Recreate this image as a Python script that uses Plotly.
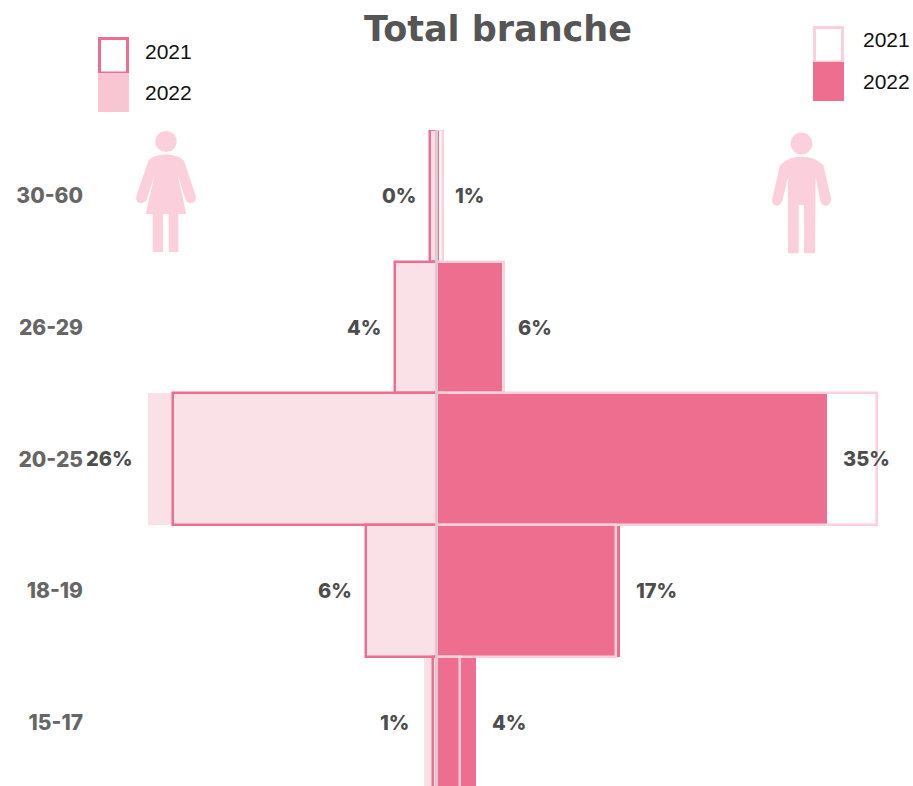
import plotly.graph_objects as go

ages = ["15-17", "18-19", "20-25", "26-29", "30-60"]
women_2021 = [0.35, 6.4, 23.7, 3.8, 0.6]
women_2022 = [1.15, 6.3, 25.9, 3.7, 0.5]
men_2021 = [2.1, 16.1, 39.5, 6.0, 0.5]
men_2022 = [3.5, 16.4, 35.0, 5.8, 0.2]
women_labels = ["1%", "6%", "26%", "4%", "0%"]
men_labels = ["4%", "17%", "35%", "6%", "1%"]
legend_years = ["2021", "2022"]
title_text = "Total branche"

DARK = "#ee6e90"
LIGHT = "#fbd0dc"
PALE = "#fae0e7"
W, H = 913, 786
L, T = 84, 130
PW, PH = W - L, H - T


def px(x):
    return (x - L) / PW


def py(y):
    return (H - y) / PH


def rect(x0, y0, x1, y1, **kw):
    return dict(type="rect", xref="paper", yref="paper", x0=px(x0), x1=px(x1),
                y0=py(y1), y1=py(y0), **kw)


def icon_path(cmds, ox, oy):
    out = []
    for c in cmds:
        if c == "Z":
            out.append("Z")
            continue
        parts = [c[0]]
        pts = c[1:]
        for i in range(0, len(pts), 2):
            parts.append(f"{px(ox + pts[i] / 3):.5f},{py(oy + pts[i + 1] / 3):.5f}")
        out.append(parts[0] + " ".join(parts[1:]))
    return " ".join(out)


woman = [("M", 85, 122), ("Q", 100, 105, 138, 103), ("Q", 176, 105, 192, 122), ("L", 227, 228),
         ("Q", 230, 248, 212, 250), ("Q", 200, 250, 195, 235), ("L", 172, 160), ("L", 199, 282),
         ("L", 175, 282), ("L", 175, 396), ("L", 146, 396), ("L", 146, 282), ("L", 129, 282),
         ("L", 129, 396), ("L", 98, 396), ("L", 98, 282), ("L", 77, 282), ("L", 105, 160),
         ("L", 80, 240), ("Q", 72, 250, 60, 250), ("Q", 44, 245, 50, 225), "Z"]
man = [("M", 60, 135), ("Q", 85, 110, 125, 110), ("Q", 165, 110, 190, 135), ("L", 213, 235),
       ("Q", 215, 255, 197, 257), ("Q", 185, 257, 180, 240), ("L", 167, 170), ("L", 165, 400),
       ("L", 132, 400), ("L", 132, 255), ("L", 116, 255), ("L", 116, 400), ("L", 84, 400),
       ("L", 84, 170), ("L", 68, 240), ("Q", 62, 257, 50, 257), ("Q", 33, 253, 37, 235), "Z"]

fig = go.Figure()
neg = lambda v: [-a for a in v]
fig.add_bar(y=ages, x=neg(women_2022), orientation="h", name="Women 2022",
            marker=dict(color=PALE, line=dict(width=0)))
fig.add_bar(y=ages, x=neg(women_2021), orientation="h", name="Women 2021",
            marker=dict(color="rgba(0,0,0,0)", line=dict(color=DARK, width=2.5)))
fig.add_bar(y=ages, x=men_2022, orientation="h", name="Men 2022",
            marker=dict(color=DARK, line=dict(width=0)))
fig.add_bar(y=ages, x=men_2021, orientation="h", name="Men 2021",
            marker=dict(color="rgba(0,0,0,0)", line=dict(color=LIGHT, width=2.5)))

annotations = []
label_font = dict(family="Inter", size=20, color="#4d4d4d", weight=800)
for i, age in enumerate(ages):
    annotations.append(dict(x=-women_2022[i], y=age, text=women_labels[i], xref="x", yref="y",
                            xanchor="right", xshift=-13, showarrow=False, font=label_font))
    annotations.append(dict(x=men_2022[i], y=age, text=men_labels[i], xref="x", yref="y",
                            xanchor="left", xshift=14, showarrow=False, font=label_font))

legend_font = dict(family="Liberation Sans", size=21, color="#111111")
for x, ys in ((142.5, (51, 92)), (860.5, (39, 81))):
    for year, y in zip(legend_years, ys):
        annotations.append(dict(x=px(x), y=py(y), text=year, xref="paper", yref="paper",
                                xanchor="left", yanchor="middle", showarrow=False, font=legend_font))

shapes = [
    dict(type="line", xref="x", yref="paper", x0=0, x1=0, y0=0, y1=1, layer="above",
         line=dict(color="#d6cfd1", width=2)),
    rect(99.5, 38.5, 127.5, 73, fillcolor="white", line=dict(color=DARK, width=3)),
    rect(98, 73, 129, 112, fillcolor="#f8c5d3", line=dict(width=0)),
    rect(814.5, 27.5, 842.5, 62, fillcolor="white", line=dict(color=LIGHT, width=3)),
    rect(813, 62, 844, 101, fillcolor=DARK, line=dict(width=0)),
    dict(type="circle", xref="paper", yref="paper", x0=px(155.3), x1=px(176.7), y0=py(152), y1=py(131),
         fillcolor=LIGHT, line=dict(width=0)),
    dict(type="path", xref="paper", yref="paper", path=icon_path(woman, 120, 120),
         fillcolor=LIGHT, line=dict(width=0)),
    dict(type="circle", xref="paper", yref="paper", x0=px(790.7), x1=px(812.3), y0=py(154.5), y1=py(132.5),
         fillcolor=LIGHT, line=dict(width=0)),
    dict(type="path", xref="paper", yref="paper", path=icon_path(man, 760, 120),
         fillcolor=LIGHT, line=dict(width=0)),
]

fig.update_layout(
    width=W, height=H,
    margin=dict(l=L, r=0, t=T, b=0, autoexpand=False),
    barmode="overlay", bargap=0,
    showlegend=False,
    paper_bgcolor="white", plot_bgcolor="white",
    title=dict(text=title_text, x=498 / W, xanchor="center", y=(H - 29) / H, yanchor="middle",
               xref="container", yref="container",
               font=dict(family="DejaVu Sans", size=35, color="#555555", weight=700)),
    xaxis=dict(range=[-353 / 11.14, 476 / 11.14], visible=False, fixedrange=True),
    yaxis=dict(type="category", categoryorder="array", categoryarray=ages, range=[-0.48, 4.5],
               showgrid=False, zeroline=False, showline=False, ticks="", ticklen=0,
               tickfont=dict(family="Inter", size=21, color="#666666", weight=800)),
    annotations=annotations,
    shapes=shapes,
)

fig.write_html("out.html", config=dict(displayModeBar=False),
               post_script="document.body.style.margin='0';document.documentElement.style.overflow='hidden';")
